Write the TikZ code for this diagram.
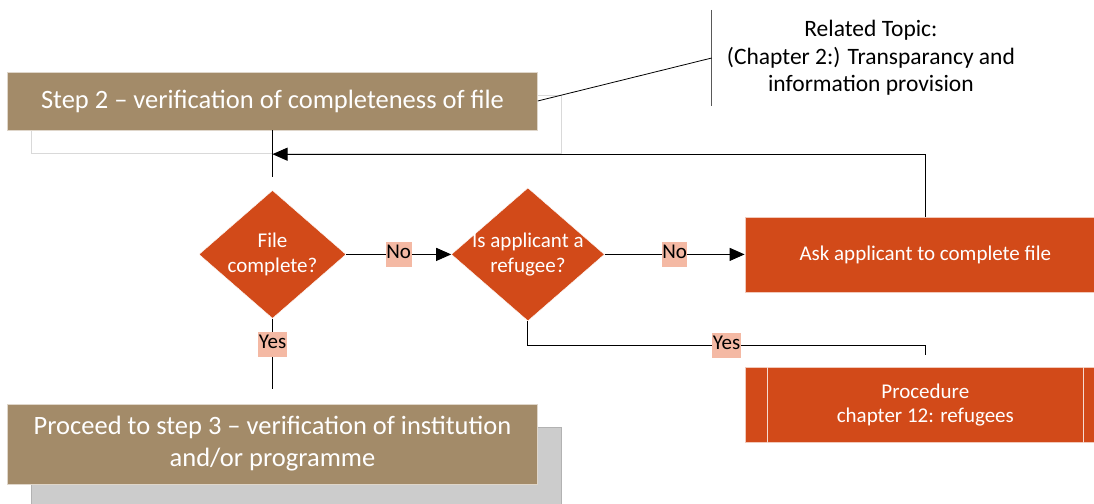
\documentclass[tikz,border=0pt]{standalone}
\usepackage{fontspec}
\setmainfont{Carlito}
\usetikzlibrary{shapes.geometric, arrows.meta, positioning, calc, shadows}

\definecolor{stepbrown}{HTML}{A38B69}
\definecolor{rust}{HTML}{D24A19}
\definecolor{salmon}{HTML}{F4B9A4}

\tikzstyle{stepbox} = [rectangle, minimum width=530pt, minimum height=58pt, align=center, draw=stepbrown!35!white, fill=stepbrown, text=white, font=\fontsize{26.5}{32}\selectfont]
\tikzstyle{decision} = [diamond, inner sep=-8pt, align=center, draw=white, fill=rust, text=white, font=\fontsize{21}{25}\selectfont]
\tikzstyle{process} = [rectangle, minimum width=361pt, minimum height=75pt, align=center, draw=rust!30!white, fill=rust, text=white, font=\fontsize{21}{24}\selectfont]
\tikzstyle{answer} = [fill=salmon, inner xsep=0.5pt, inner ysep=3pt, text height=14pt, text depth=5pt, font=\fontsize{21}{25}\selectfont]
\tikzstyle{annot} = [minimum width=318pt, minimum height=96pt, align=center, font=\fontsize{23.5}{27.5}\selectfont]
\tikzstyle{line} = [line width=1pt, black]
\tikzstyle{arrow} = [line, -{Triangle[length=15pt, width=13pt]}]

\begin{document}
\begin{tikzpicture}[x=1pt, y=-1pt]
\useasboundingbox (0,0) rectangle (1094,503);

% Steps
\node (step2) [stepbox, drop shadow={shadow xshift=24pt, shadow yshift=-23pt, fill=none, draw=black!15, opacity=1}] at (272.5,101) {Step 2 – verification of completeness of file};
\node (topic) [annot, right=174pt of step2, yshift=43pt] {Related Topic:\\(Chapter 2:) Transparancy and\\information provision};

% Decisions
\node (check) [decision, minimum width=147pt, minimum height=128pt, below=60pt of step2] {File\\complete?};
\node (refugee) [decision, minimum width=153pt, minimum height=133pt, right=105pt of check] {Is applicant a\\refugee?};

% Outcomes
\node (complete) [process, right=140pt of refugee] {Ask applicant to complete file};
\node (proc) [process, below=75pt of complete] {Procedure\\chapter 12: refugees};
\draw [white!80!rust] ([xshift=23pt]proc.north west) -- ([xshift=23pt]proc.south west);
\draw [white!80!rust] ([xshift=-23pt]proc.north east) -- ([xshift=-23pt]proc.south east);
\node (step3) [stepbox, minimum height=80pt, drop shadow={shadow xshift=24pt, shadow yshift=-23pt, fill=black!20, draw=black!30, opacity=1}, below=85pt of check] {Proceed to step 3 – verification of institution\\and/or programme};

% Related topic bracket
\draw [black!65, line width=1.2pt] (topic.north west) -- (topic.south west);
\draw [line, line width=0.8pt] (step2.east) -- (topic.west);

% Connections
\coordinate (join) at ($(step2.south)!0.4!(check.north)$);
\draw [line, shorten >=13pt] (step2) -- (check);
\draw [arrow] (complete.north) |- (join);
\draw [arrow] (check) -- node[answer] {No} (refugee);
\draw [arrow] (refugee) -- node[answer] {No} (complete);
\draw [line, shorten >=15pt] (check) -- node[answer, pos=0.3] {Yes} (step3);
\draw [line] (refugee.south) -- ++(0,24) coordinate (bend) -- node[answer] {Yes} (bend -| proc.north) -- ([yshift=12pt]proc.north);

\end{tikzpicture}
\end{document}
